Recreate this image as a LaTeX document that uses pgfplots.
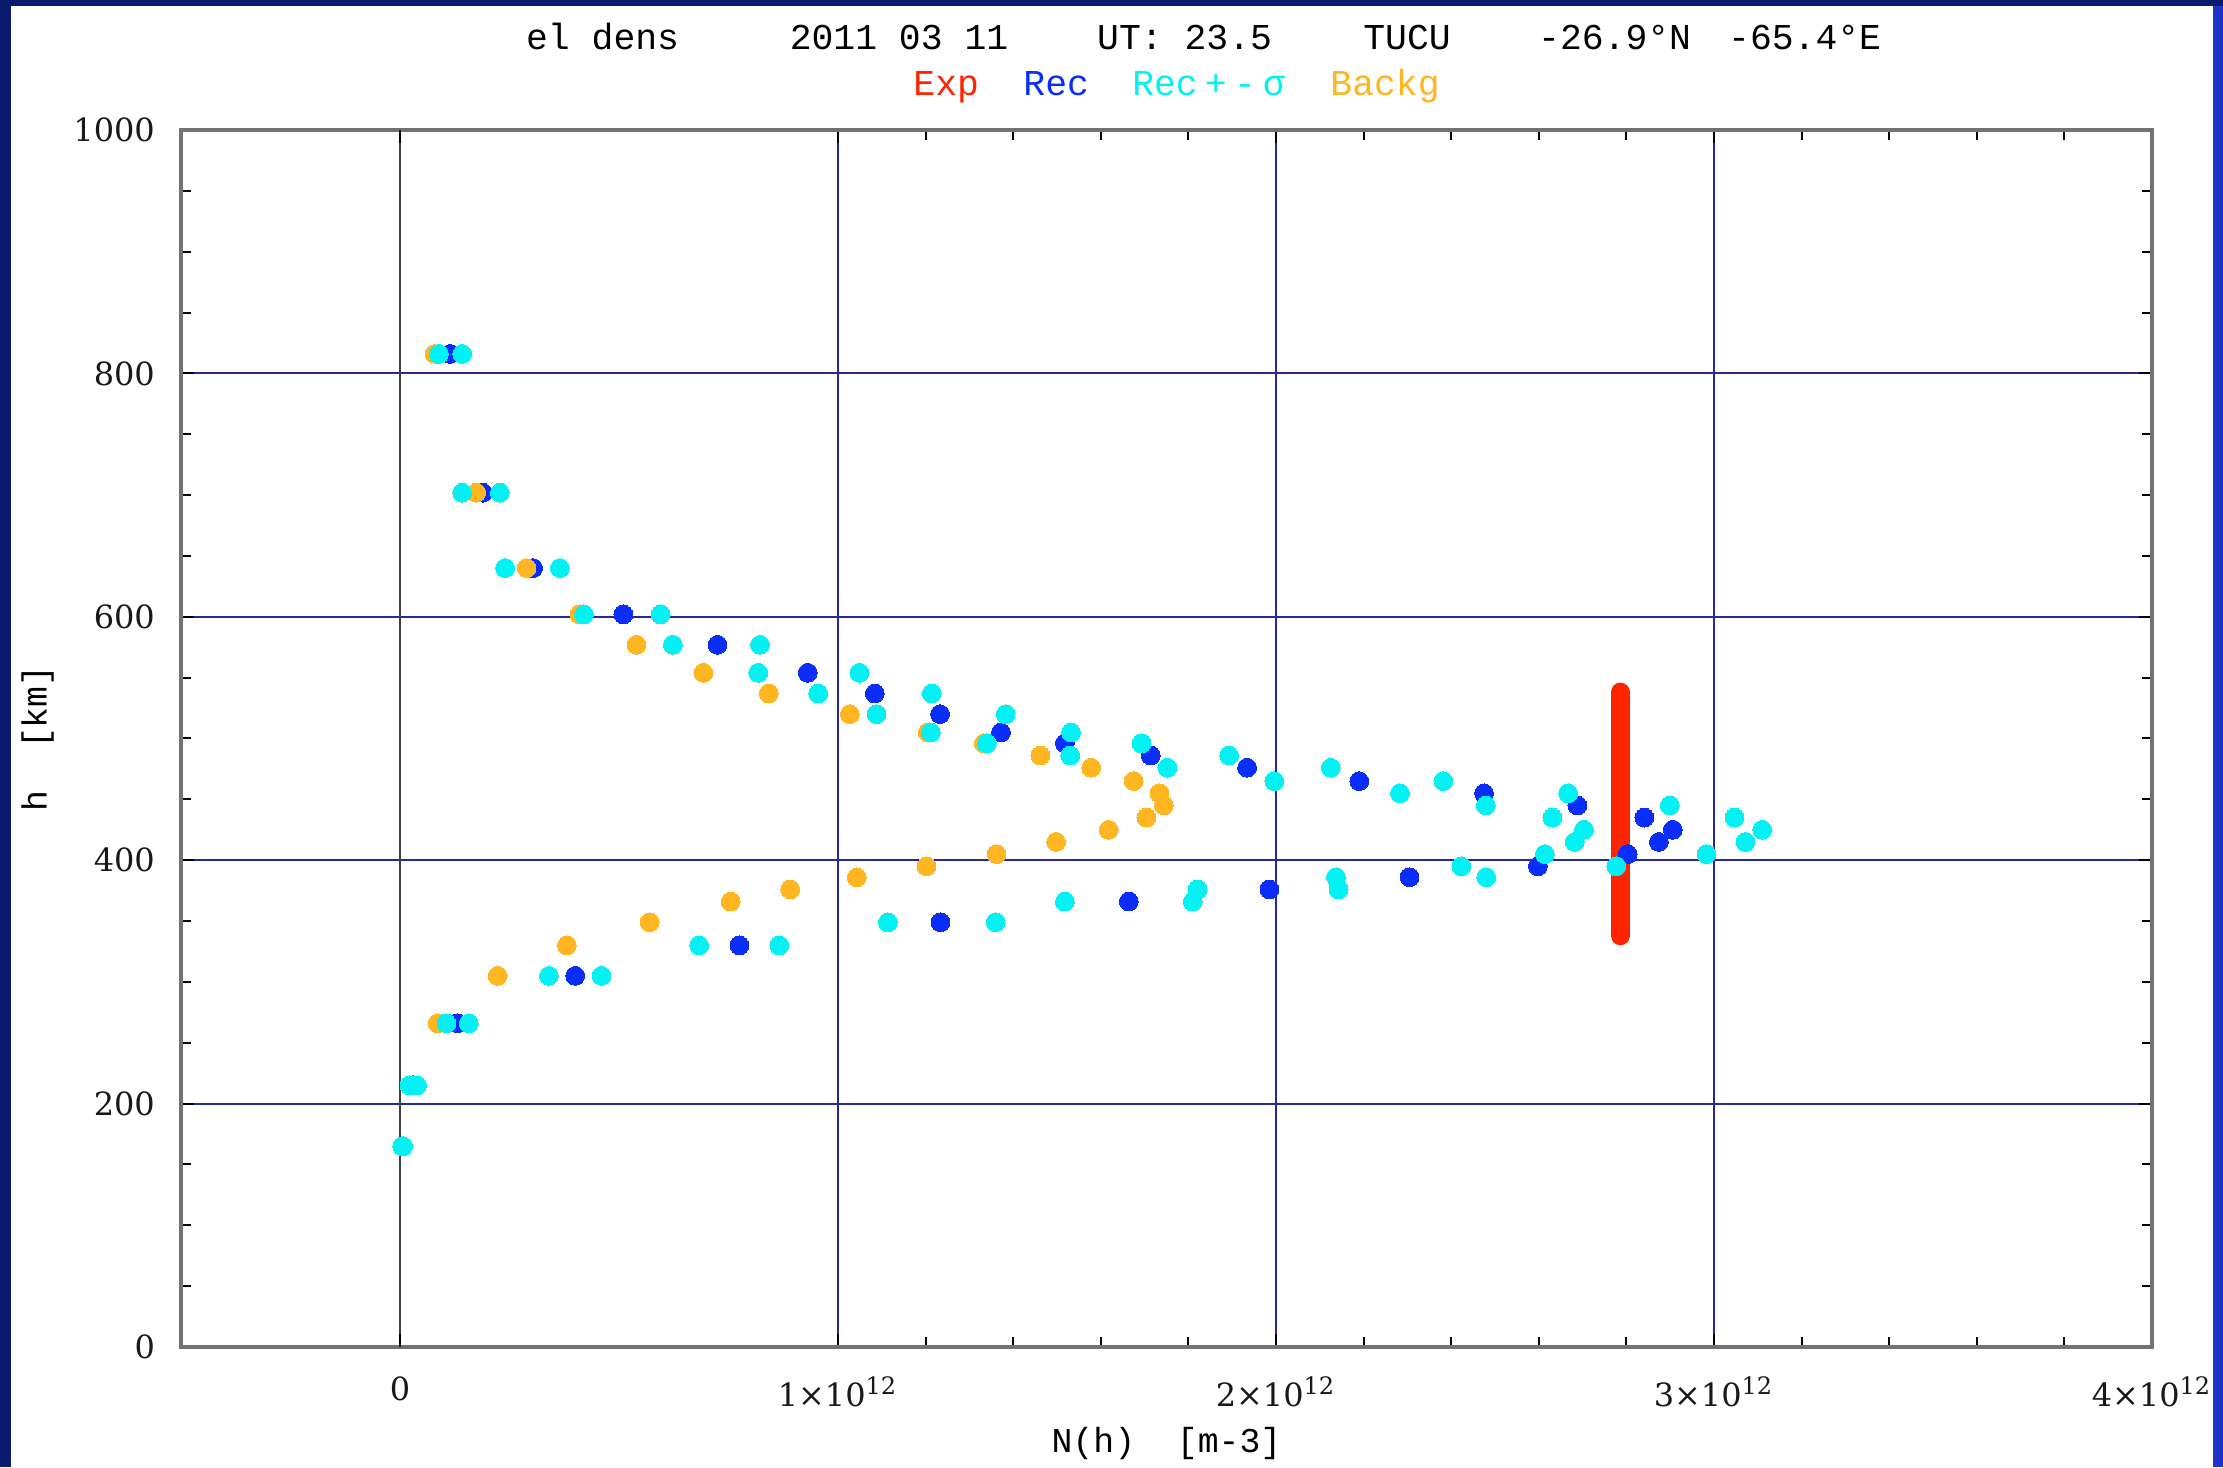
\documentclass[border=0pt]{standalone}
\usepackage{fontspec}
\setmainfont{DejaVu Serif}
\newfontfamily\monofont{Liberation Mono}
\usepackage{pgfplots}
\usepackage{pgfplotstable}
\pgfplotsset{compat=1.18}

\definecolor{recblue}{RGB}{10,45,250}
\definecolor{sigcyan}{RGB}{0,242,242}
\definecolor{bkorange}{RGB}{255,182,32}
\definecolor{expred}{RGB}{255,36,0}
\definecolor{gridblue}{RGB}{40,40,150}
\definecolor{navy}{RGB}{12,26,110}
\definecolor{rightblue}{RGB}{30,52,200}

% h [km], N in units of 1e12 m^-3: background, reconstruction, rec - sigma, rec + sigma
\pgfplotstableread{
h   bk    rec   lo    hi
816 0.079 0.115 0.089 0.142
702 0.174 0.189 0.142 0.228
640 0.289 0.304 0.240 0.365
602 0.410 0.510 0.420 0.595
577 0.540 0.725 0.623 0.822
554 0.693 0.931 0.818 1.049
537 0.842 1.084 0.955 1.214
520 1.027 1.233 1.088 1.383
505 1.205 1.372 1.212 1.532
496 1.333 1.518 1.340 1.693
486 1.462 1.714 1.530 1.893
476 1.578 1.934 1.752 2.125
465 1.675 2.190 1.996 2.382
455 1.734 2.475 2.283 2.667
445 1.744 2.688 2.479 2.899
435 1.704 2.841 2.631 3.047
425 1.618 2.906 2.703 3.110
415 1.498 2.874 2.682 3.072
405 1.362 2.803 2.614 2.983
395 1.202 2.598 2.423 2.777
386 1.043 2.305 2.137 2.480
376 0.891 1.985 1.821 2.143
366 0.755 1.664 1.518 1.810
349 0.570 1.234 1.114 1.360
330 0.381 0.775 0.683 0.866
305 0.223 0.400 0.340 0.460
266 0.086 0.131 0.106 0.157
215 0.028 0.030 0.022 0.039
165 0.005 0.006 0.005 0.007
}\profile

\begin{document}
\begin{tikzpicture}
\fill[white] (-45.25pt,-30pt) rectangle (510.5pt,336.75pt);
\begin{axis}[
  at={(0,0)}, anchor=south west,
  scale only axis, width=492.75pt, height=304.25pt,
  xmin=-0.5, xmax=4, ymin=0, ymax=1000,
  xtick={1,2,3,4},
  xticklabels={1×10\textsuperscript{12},2×10\textsuperscript{12},3×10\textsuperscript{12},4×10\textsuperscript{12}},
  extra x ticks={0}, extra x tick labels={0},
  extra x tick style={grid style={black!75, line width=0.55pt}},
  minor x tick num=4,
  ytick={0,200,400,600,800,1000},
  yticklabels={0,200,400,600,800,1000},
  minor y tick num=3,
  xmajorgrids, ymajorgrids,
  grid style={gridblue, line width=0.5pt},
  axis line style={black!55, line width=0.8pt},
  tick style={black, line width=0.5pt},
  major tick length=3.2pt, minor tick length=2.5pt,
  ticklabel style={font=\fontsize{8}{9.6}\selectfont, text=black!90},
  yticklabel style={xshift=-3pt},
  xticklabel style={yshift=-4pt},
  xlabel={N(h)~~[m-3]},
  ylabel={h~~[km]},
  xlabel style={at={(axis description cs:0.5,-0.079)}, anchor=center, font=\monofont\fontsize{8.7}{10}\selectfont},
  ylabel style={at={(axis description cs:-0.0727,0.5)}, anchor=center, font=\monofont\fontsize{8.7}{10}\selectfont},
  clip=false,
]
\addplot[only marks, mark=*, mark size=2.35pt, mark options={draw=recblue, fill=recblue, line width=0pt}] table[x=rec, y=h] {\profile};
\addplot[only marks, mark=*, mark size=2.35pt, mark options={draw=bkorange, fill=bkorange, line width=0pt}] table[x=bk, y=h] {\profile};
\addplot[expred, line width=4.8pt, line cap=round] coordinates {(2.786,338) (2.786,538)};
\addplot[only marks, mark=*, mark size=2.35pt, mark options={draw=sigcyan, fill=sigcyan, line width=0pt}] table[x=lo, y=h] {\profile};
\addplot[only marks, mark=*, mark size=2.35pt, mark options={draw=sigcyan, fill=sigcyan, line width=0pt}] table[x=hi, y=h] {\profile};
\end{axis}
% title
\begin{scope}[every node/.style={anchor=base, inner sep=0pt, font=\monofont\fontsize{9.1}{11}\selectfont}]
\node at (105.4pt,324.4pt) {el dens};
\node at (179.5pt,324.4pt) {2011 03 11};
\node at (250.9pt,324.4pt) {UT: 23.5};
\node at (306.5pt,324.4pt) {TUCU};
\node at (358.4pt,324.4pt) {-26.9°N};
\node at (405.9pt,324.4pt) {-65.4°E};
\node[text=expred] at (191.3pt,312.8pt) {Exp};
\node[text=recblue] at (218.8pt,312.8pt) {Rec};
\node[text=sigcyan] at (256.9pt,312.8pt) {Rec\hspace{1.8pt}+\hspace{1.8pt}-\hspace{1.8pt}σ};
\node[text=bkorange] at (301.0pt,312.8pt) {Backg};
\end{scope}
% slide frame
\fill[navy] (-45.25pt,-30pt) rectangle (-42.5pt,336.75pt);
\fill[navy] (-45.25pt,335.25pt) rectangle (510.5pt,336.75pt);
\fill[rightblue] (508pt,-30pt) rectangle (510.5pt,335.25pt);
\pgfresetboundingbox
\useasboundingbox (-45.25pt,-30pt) rectangle (510.5pt,336.75pt);
\end{tikzpicture}
\end{document}
